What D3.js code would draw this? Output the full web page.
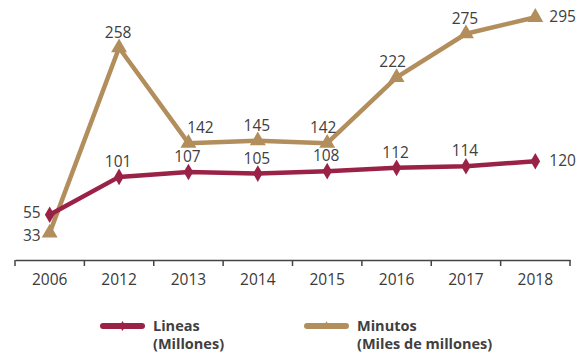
<!DOCTYPE html>
<html><head><meta charset="utf-8">
<script src="https://cdn.jsdelivr.net/npm/d3@7"></script>
<style>
body{margin:0;background:#fff;}
svg{display:block;font-family:"Open Sans",Lato,sans-serif;}
</style></head>
<body><svg id="c" width="585" height="356"></svg>
<script>
const years = ["2006","2012","2013","2014","2015","2016","2017","2018"];
const lineas = [55,101,107,105,108,112,114,120];
const minutos = [33,258,142,145,142,222,275,295];
const lineasName = ["Lineas","(Millones)"];
const minutosName = ["Minutos","(Miles de millones)"];
// label placement per point (style only)
const lineasPos = ["left","top","top","top","top","top","top","right"];
const minutosPos = ["left","top","topright","top","topleft","topleft","top","right"];

const C_L = "#9B2247", C_M = "#B38E5D";
const svg = d3.select("#c");
const x = d3.scaleBand().domain(years).range([15,570]);
const y = d3.scaleLinear().domain([0,316]).range([260,0]);
const cx = d => x(d) + x.bandwidth()/2;

// axis
const ax = svg.append("g").attr("transform","translate(0,260)")
  .call(d3.axisBottom(x).tickSize(0).tickPadding(14));
ax.select(".domain").attr("stroke","#444").attr("stroke-width",1.5);
ax.selectAll("text").attr("font-size",15.5).attr("font-weight",500).attr("fill","#3a3a3a")
  .attr("font-family","'Open Sans',sans-serif");
const bounds = years.map(d=>x(d)).concat([x.range()[1]]);
ax.selectAll(".bt").data(bounds).enter().append("line")
  .attr("x1",d=>d).attr("x2",d=>d).attr("y1",0).attr("y2",6)
  .attr("stroke","#444").attr("stroke-width",1.5);

const line = d3.line().x((d,i)=>cx(years[i])).y(d=>y(d));

function series(vals,color,symType,size,pos,sideDy){
  svg.append("path").datum(vals).attr("d",line).attr("fill","none")
    .attr("stroke",color).attr("stroke-width",4.5).attr("stroke-linejoin","round");
  svg.selectAll(null).data(vals).enter().append("path")
    .attr("d",d3.symbol().type(symType).size(size))
    .attr("transform",(d,i)=>`translate(${cx(years[i])},${y(d)})`)
    .attr("fill",color);
  svg.selectAll(null).data(vals).enter().append("text")
    .text(d=>d)
    .attr("font-size",15.5).attr("fill","#404040")
    .attr("x",(d,i)=>{const p=pos[i],X=cx(years[i]);
      if(p==="left")return X-9; if(p==="right")return X+14;
      if(p==="topright")return X+12; if(p==="topleft")return X-4; return X-1;})
    .attr("y",(d,i)=>{const p=pos[i],Y=y(d);
      if(p==="left")return Y+sideDy; if(p==="right")return Y+5; return Y-10;})
    .attr("text-anchor",(d,i)=>{const p=pos[i];
      return p==="left"?"end":p==="right"?"start":"middle";});
}
series(minutos,C_M,d3.symbolTriangle,110,minutosPos,8);
series(lineas,C_L,d3.symbolDiamond,80,lineasPos,3);

// legend
function legend(x0,color,symType,names){
  const g = svg.append("g");
  g.append("line").attr("x1",x0).attr("x2",x0+39).attr("y1",326).attr("y2",326)
    .attr("stroke",color).attr("stroke-width",6).attr("stroke-linecap","round");
  g.append("path").attr("d",d3.symbol().type(symType).size(30))
    .attr("transform",`translate(${x0+19.5},326)`).attr("fill",color);
  g.selectAll("text").data(names).enter().append("text")
    .attr("x",x0+50).attr("y",(d,i)=>331+i*18).text(d=>d)
    .attr("font-size",14.5).attr("font-weight",700).attr("fill","#404040");
}
legend(103,C_L,d3.symbolDiamond,lineasName);
legend(307,C_M,d3.symbolTriangle,minutosName);
</script></body></html>
